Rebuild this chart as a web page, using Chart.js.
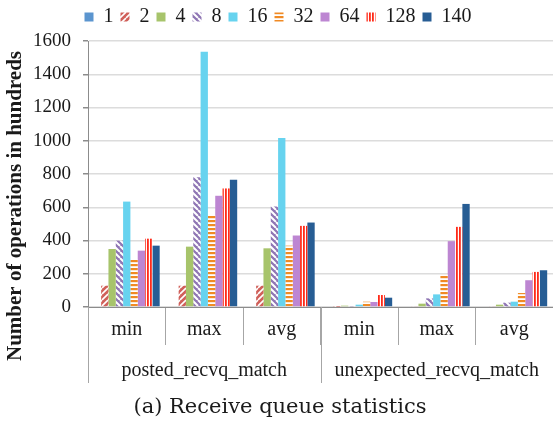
<!DOCTYPE html>
<html>
<head>
<meta charset="utf-8">
<script src="https://cdn.jsdelivr.net/npm/chart.js@4.4.1/dist/chart.umd.min.js"></script>
<style>
  html, body { margin: 0; padding: 0; background: #ffffff; }
  #wrap { width: 553px; height: 421px; }
</style>
</head>
<body>
<div id="wrap"><canvas id="chart" width="553" height="421"></canvas></div>
<script>
// Categories along the x axis and the groups they belong to
const categories = ['min', 'max', 'avg', 'min', 'max', 'avg'];
const groups = ['posted_recvq_match', 'unexpected_recvq_match'];
const seriesNames = ['1', '2', '4', '8', '16', '32', '64', '128', '140'];
const yTicks = [0, 200, 400, 600, 800, 1000, 1200, 1400, 1600];

// Number of operations (hundreds) per series
const s1   = [0, 0, 0, 0, 0, 0];
const s2   = [128, 128, 128, 1, 5, 5];
const s4   = [349, 363, 353, 8, 20, 14];
const s8   = [399, 781, 604, 6, 52, 26];
const s16  = [634, 1536, 1016, 14, 76, 32];
const s32  = [285, 550, 369, 32, 195, 84];
const s64  = [339, 669, 430, 30, 396, 161];
const s128 = [411, 713, 488, 72, 482, 211];
const s140 = [369, 765, 508, 56, 620, 221];

const serif = '"Liberation Serif", "Times New Roman", serif';

// Striped fills
function stripes(base, kind) {
  const c = document.createElement('canvas');
  const ctx = c.getContext('2d');
  if (kind === 'up' || kind === 'down') {
    const n = 6;
    c.width = n; c.height = n;
    ctx.fillStyle = base; ctx.fillRect(0, 0, n, n);
    ctx.strokeStyle = '#ffffff';
    ctx.lineWidth = kind === 'up' ? 1.6 : 2.0;
    ctx.beginPath();
    if (kind === 'up') {
      for (let k = -1; k <= 1; k++) { ctx.moveTo(k * n, n); ctx.lineTo(k * n + n, 0); }
    } else {
      for (let k = -1; k <= 1; k++) { ctx.moveTo(k * n, 0); ctx.lineTo(k * n + n, n); }
    }
    ctx.stroke();
  } else if (kind === 'h') {
    c.width = 4; c.height = 4;
    ctx.fillStyle = '#ffffff'; ctx.fillRect(0, 0, 4, 4);
    ctx.fillStyle = base; ctx.fillRect(0, 0, 4, 2.2);
  } else {
    c.width = 3; c.height = 3;
    ctx.fillStyle = '#ffffff'; ctx.fillRect(0, 0, 3, 3);
    ctx.fillStyle = base; ctx.fillRect(0, 0, 1.8, 3);
  }
  return ctx.createPattern(c, 'repeat');
}

const values = [s1, s2, s4, s8, s16, s32, s64, s128, s140];
const fills = [
  '#5B95CF',
  stripes('#D0605A', 'up'),
  '#A7C46B',
  stripes('#8F76B4', 'down'),
  '#67D3EF',
  stripes('#F08A24', 'h'),
  '#BD86D2',
  stripes('#FF2A18', 'v'),
  '#275D94'
];

const datasets = seriesNames.map((name, i) => ({
  label: name,
  data: values[i],
  backgroundColor: fills[i],
  borderWidth: 0,
  barPercentage: 1.0,
  categoryPercentage: 0.85
}));

// Pull the legend row a little closer to the top edge
const legendNudge = {
  id: 'legendNudge',
  afterLayout(chart) {
    if (chart.legend) {
      chart.legend.top -= 4;
      chart.legend.bottom -= 4;
    }
  }
};

// Group labels, long separators, y title and caption
const extras = {
  id: 'extras',
  afterDraw(chart) {
    const ctx = chart.ctx;
    const x = chart.scales.x;
    const area = chart.chartArea;
    const half = (x.getPixelForValue(1) - x.getPixelForValue(0)) / 2;
    ctx.save();
    ctx.strokeStyle = '#A6A6A6';
    ctx.lineWidth = 1;
    [0, 3, 6].forEach(idx => {
      const px = Math.round(idx < 6 ? x.getPixelForValue(idx) - half : x.getPixelForValue(5) + half) + 0.5;
      ctx.beginPath();
      ctx.moveTo(px, area.bottom);
      ctx.lineTo(px, 383);
      ctx.stroke();
    });
    ctx.fillStyle = '#1a1a1a';
    ctx.font = '20px ' + serif;
    ctx.textAlign = 'center';
    ctx.textBaseline = 'middle';
    groups.forEach((g, gi) => {
      const a = x.getPixelForValue(gi * 3) - half;
      const b = x.getPixelForValue(gi * 3 + 2) + half;
      ctx.fillText(g, (a + b) / 2, 371);
    });
    ctx.font = '21px "DejaVu Serif", serif';
    ctx.fillText('(a) Receive queue statistics', 280, 408);
    ctx.translate(16, 206);
    ctx.rotate(-Math.PI / 2);
    ctx.font = 'bold 21px ' + serif;
    ctx.fillText('Number of operations in hundreds', 0, 0);
    ctx.restore();
  }
};

new Chart(document.getElementById('chart'), {
  type: 'bar',
  data: { labels: categories, datasets },
  options: {
    responsive: false,
    animation: false,
    layout: { padding: { top: 1, right: -3, bottom: 0, left: 0 } },
    plugins: {
      legend: {
        position: 'top',
        labels: {
          boxWidth: 9,
          boxHeight: 9,
          padding: 7,
          color: '#1a1a1a',
          font: { family: serif, size: 20 }
        }
      },
      tooltip: { enabled: false }
    },
    scales: {
      x: {
        grid: {
          display: true,
          drawOnChartArea: false,
          drawTicks: true,
          tickLength: 38,
          tickColor: '#A6A6A6',
          offset: true
        },
        border: { color: '#8C8C8C', width: 1 },
        ticks: {
          color: '#1a1a1a',
          padding: -27,
          font: { family: serif, size: 20 },
          maxRotation: 0
        },
        afterFit(scale) { scale.height = 114; }
      },
      y: {
        min: 0,
        max: 1600,
        afterBuildTicks(scale) { scale.ticks = yTicks.map(v => ({ value: v })); },
        grid: {
          color: '#DCDCDC',
          lineWidth: 1.5,
          tickLength: 5,
          tickColor: '#8C8C8C'
        },
        border: { color: '#8C8C8C', width: 1 },
        ticks: {
          color: '#1a1a1a',
          padding: 12,
          font: { family: serif, size: 19 },
          callback: v => String(v)
        },
        afterFit(scale) { scale.width = 88; scale.paddingTop = 41; }
      }
    }
  },
  plugins: [legendNudge, extras]
});
</script>
</body>
</html>
